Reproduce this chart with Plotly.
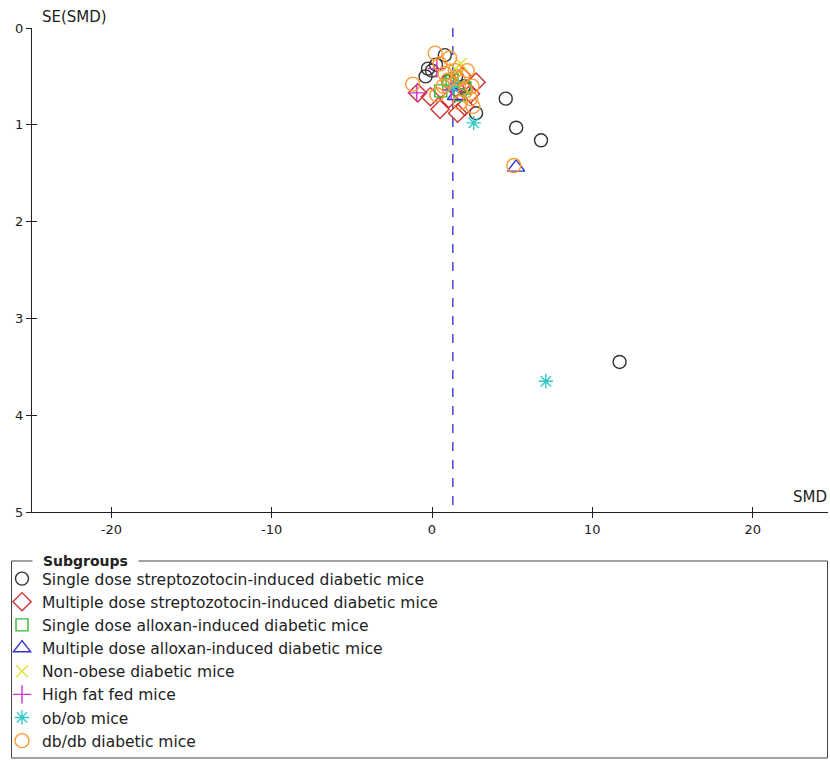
import plotly.graph_objects as go

# ---- data (SMD, SE(SMD)) per subgroup ----
groups = [
    "Single dose streptozotocin-induced diabetic mice",
    "Multiple dose streptozotocin-induced diabetic mice",
    "Single dose alloxan-induced diabetic mice",
    "Multiple dose alloxan-induced diabetic mice",
    "Non-obese diabetic mice",
    "High fat fed mice",
    "ob/ob mice",
    "db/db diabetic mice",
]
stz_single_smd = [0.8, -0.25, 0.0, -0.4, 0.25, 1.5, 1.0, 2.0, 4.6, 5.25, 6.8, 11.7, 2.75]
stz_single_se = [0.28, 0.42, 0.44, 0.5, 0.38, 0.5, 0.55, 0.6, 0.73, 1.03, 1.16, 3.45, 0.88]
stz_multi_smd = [2.75, 0.5, 1.6, -0.9, 1.05, 2.05, 2.4, -0.1, 1.45, 1.9]
stz_multi_se = [0.56, 0.84, 0.88, 0.67, 0.73, 0.81, 0.68, 0.71, 0.62, 0.5]
allox_single_smd = [0.55, 1.05, 1.75, 2.05, 1.25]
allox_single_se = [0.65, 0.58, 0.69, 0.62, 0.54]
allox_multi_smd = [5.25, 1.5]
allox_multi_se = [1.44, 0.7]
nod_smd = [1.8, 1.45]
nod_se = [0.37, 0.42]
hfd_smd = [-0.95, 0.3, 1.2]
hfd_se = [0.67, 0.42, 0.64]
obob_smd = [2.6, 7.1, 1.3]
obob_se = [0.98, 3.65, 0.61]
dbdb_smd = [0.2, -1.2, 0.5, 0.8, 1.0, 1.6, 1.9, 2.1, 2.4, 2.5, 2.55, 0.3, 1.1,
            1.45, 1.75, 0.7, 5.1, 2.2]
dbdb_se = [0.26, 0.58, 0.37, 0.47, 0.54, 0.52, 0.50, 0.65, 0.73, 0.6, 0.81, 0.69,
           0.31, 0.44, 0.77, 0.6, 1.42, 0.44]
pooled_smd = 1.3
se_limits = [0, 5]
x_ticks = [-20, -10, 0, 10, 20]
x_ticklabels = ["-20", "-10", "0", "10", "20"]
y_ticks = [0, 1, 2, 3, 4, 5]

series = [
    (stz_single_smd, stz_single_se, "circle-open", "#333333", 13),
    (stz_multi_smd, stz_multi_se, "diamond-open", "#cc3333", 14),
    (allox_single_smd, allox_single_se, "square-open", "#33bb33", 12),
    (allox_multi_smd, allox_multi_se, "triangle-up-open", "#3333cc", 15),
    (nod_smd, nod_se, "x-thin-open", "#e0e030", 12),
    (hfd_smd, hfd_se, "cross-thin-open", "#cc33cc", 13),
    (obob_smd, obob_se, "asterisk-open", "#33c8c8", 12),
    (dbdb_smd, dbdb_se, "circle-open", "#ff9933", 14),
]

fig = go.Figure()
fig.add_trace(go.Scatter(
    x=[pooled_smd, pooled_smd], y=se_limits, mode="lines",
    line=dict(color="#2a2acc", width=1.3, dash="dash"),
    showlegend=False, hoverinfo="skip"))

for name, (xs, ys, sym, col, sz) in zip(groups, series):
    fig.add_trace(go.Scatter(
        x=xs, y=ys, mode="markers", name=name,
        marker=dict(symbol=sym, size=sz, color=col, line=dict(color=col, width=1.4))))

font = "DejaVu Sans, Verdana, sans-serif"
tick_font = dict(family=font, size=13, color="#222")
axis_common = dict(showgrid=False, zeroline=False, showline=True, linecolor="#222",
                   linewidth=1, ticks="outside", ticklen=5, tickcolor="#222",
                   tickfont=tick_font)
XR = [-24.95, 24.7]

# page pixel -> paper helpers
L, T, PW, PH = 32, 28, 796, 484
def px(fx):
    return (fx - L) / PW
def py(fy):
    return (T + PH - fy) / PH

fig.update_layout(
    width=830, height=760,
    margin=dict(l=L, r=830 - L - PW, t=T, b=760 - T - PH, autoexpand=False),
    paper_bgcolor="white", plot_bgcolor="white",
    xaxis=dict(range=XR, tickvals=x_ticks, ticktext=x_ticklabels, **axis_common),
    yaxis=dict(range=[5, 0], tickvals=y_ticks, **axis_common),
    xaxis2=dict(overlaying="x", matches="x", range=XR, tickvals=x_ticks,
                showticklabels=False, ticks="inside", ticklen=5, tickcolor="#222",
                showgrid=False, zeroline=False, showline=False),
    yaxis2=dict(overlaying="y", matches="y", range=[5, 0], tickvals=y_ticks,
                showticklabels=False, ticks="inside", ticklen=5, tickcolor="#222",
                showgrid=False, zeroline=False, showline=False),
    showlegend=True,
    legend=dict(x=px(2), y=py(562), xanchor="left", yanchor="top",
                bgcolor="rgba(0,0,0,0)",
                font=dict(family=font, size=15.5, color="#222"),
                tracegroupgap=0, itemsizing="trace"),
    font=dict(family=font),
    shapes=[dict(type="rect", xref="paper", yref="paper",
                 x0=px(11.5), x1=px(827.5), y0=py(758), y1=py(561),
                 line=dict(color="#444", width=1))],
    annotations=[
        dict(text="SE(SMD)", xref="paper", yref="paper", x=px(40), y=py(17),
             xanchor="left", yanchor="middle", showarrow=False,
             font=dict(family=font, size=15, color="#222")),
        dict(text="SMD", xref="paper", yref="paper", x=px(829), y=py(497),
             xanchor="right", yanchor="middle", showarrow=False,
             font=dict(family=font, size=15, color="#222")),
        dict(text="&nbsp;&nbsp;<b>Subgroups</b>&nbsp;&nbsp;", xref="paper", yref="paper",
             x=px(32), y=py(561), xanchor="left", yanchor="middle", showarrow=False,
             bgcolor="white", borderpad=1,
             font=dict(family=font, size=14, color="#222")),
    ],
)
# invisible trace to activate secondary axes for crossing ticks
fig.add_trace(go.Scatter(x=[pooled_smd], y=[se_limits[0]], xaxis="x2", yaxis="y2",
                         mode="markers", marker=dict(opacity=0), showlegend=False,
                         hoverinfo="skip"))

fig.write_html(
    "out.html",
    config={"displayModeBar": False},
    post_script="document.body.style.margin='0';document.body.style.overflow='hidden';",
)
